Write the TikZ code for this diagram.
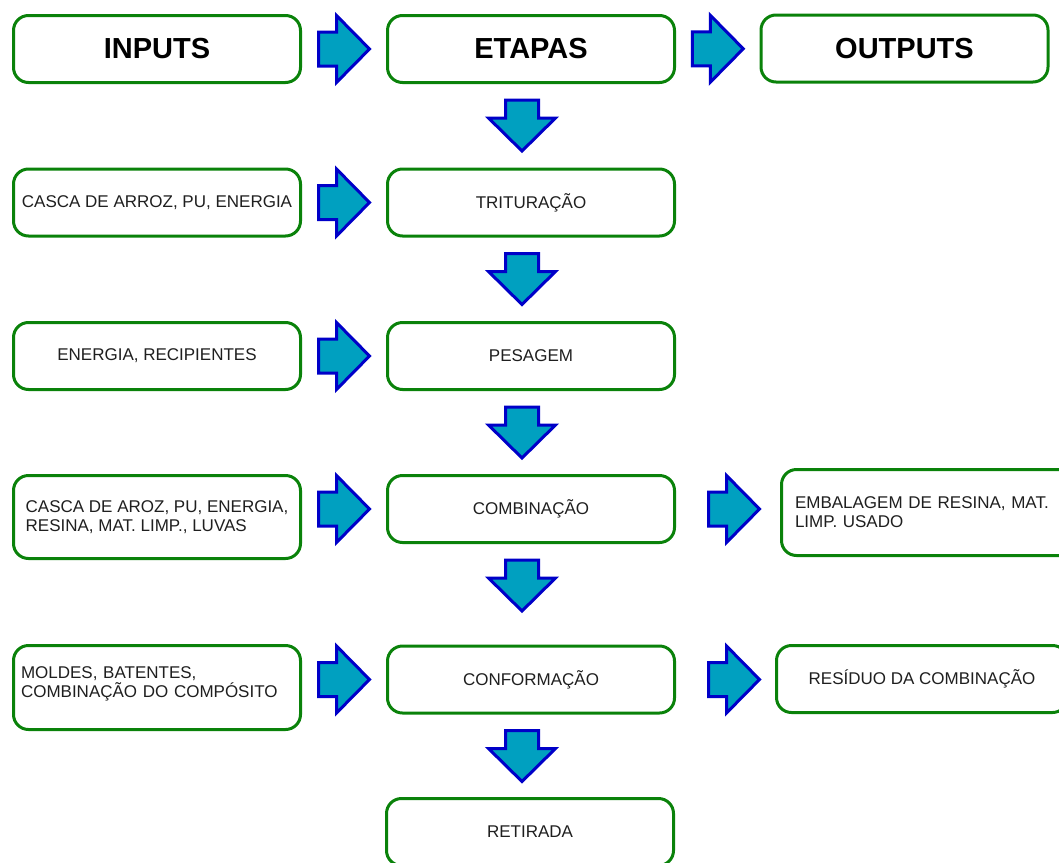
\documentclass[tikz,border=0pt]{standalone}
\usepackage{fontspec}
\setmainfont{Liberation Sans}
\usepackage{tikz}
\usepackage{xcolor}
\usetikzlibrary{calc}

\definecolor{boxgreen}{RGB}{10,130,10}
\definecolor{arrfill}{RGB}{0,160,192}
\definecolor{arrline}{RGB}{0,0,200}

\tikzset{barrow/.style={draw=arrline,fill=arrfill,line width=3pt,line join=miter}}
\newcommand{\rarr}[1]{\draw[barrow] #1 ++(-25.5,-17) -- ++(18,0) -- ++(0,-16.5) -- ++(33,33.5) -- ++(-33,33.5) -- ++(0,-16.5) -- ++(-18,0) -- cycle;}
\newcommand{\darr}[1]{\draw[barrow] #1 ++(-16.5,-25.5) -- ++(33,0) -- ++(0,18) -- ++(17,0) -- ++(-33.5,33) -- ++(-33.5,-33) -- ++(17,0) -- cycle;}

\begin{document}
\begin{tikzpicture}
[x=1pt,y=-1pt,every node/.style={draw=boxgreen,line width=3pt,rounded corners=15pt,fill=white,minimum width=287pt,minimum height=67pt,inner sep=2pt,text=black!88,font=\fontsize{17}{19}\selectfont}]
   \clip (0,0) rectangle (1059,862);
   \node[font=\fontsize{29}{34}\selectfont\bfseries,text=black] (i_0) at (157,49) {INPUTS};
   \node[font=\fontsize{29}{34}\selectfont\bfseries,text=black] (e_0) at (531,49) {ETAPAS};
   \node[font=\fontsize{29}{34}\selectfont\bfseries,text=black] (o_0) at (904.5,48.5) {OUTPUTS};
   \node (i_1) at (157,202.5) {CASCA DE ARROZ, PU, ENERGIA};
   \node (e_1) at (531,202.5) {TRITURAÇÃO};
   \node (i_2) at (157,356) {ENERGIA, RECIPIENTES};
   \node (e_2) at (531,356) {PESAGEM};
   \node[minimum height=83pt,align=left] (i_3) at (157,517) {CASCA DE AROZ, PU, ENERGIA,\\RESINA, MAT. LIMP., LUVAS};
   \node (e_3) at (531,509) {COMBINAÇÃO};
   \node[minimum height=86pt,minimum width=300pt,inner xsep=13.5pt,text width=273pt,align=left] (o_3) at (931.5,512.5) {EMBALAGEM DE RESINA, MAT.\\LIMP. USADO\\[8pt]};
   \node[minimum height=84pt,inner xsep=7.5pt,text width=272pt,text depth=30pt,align=left] (i_4) at (157,687.5) {MOLDES, BATENTES,\\COMBINAÇÃO DO COMPÓSITO};
   \node (e_4) at (531,679.5) {CONFORMAÇÃO};
   \node[minimum width=291pt] (o_4) at (922,679) {RESÍDUO DA COMBINAÇÃO};
   \node (e_5) at (530,832) {RETIRADA};
   \rarr{($(i_0.east)!0.5!(e_0.west)$)}
   \rarr{($(e_0.east)!0.5!(o_0.west)$)}
   \rarr{($(e_1.west)+(-42,0)$)}
   \rarr{($(e_2.west)+(-42,0)$)}
   \rarr{($(e_3.west)+(-42,0)$)}
   \rarr{($(e_4.west)+(-42,0)$)}
   \rarr{($(e_3.east)+(58,0)$)}
   \rarr{($(e_4.east)+(58,0)$)}
   \darr{($(e_0.south)+(-9,41.5)$)}
   \darr{($(e_1.south)+(-9,41.5)$)}
   \darr{($(e_2.south)+(-9,41.5)$)}
   \darr{($(e_3.south)+(-9,41.5)$)}
   \darr{($(e_4.south)+(-9,41.5)$)}
\end{tikzpicture}
\end{document}
